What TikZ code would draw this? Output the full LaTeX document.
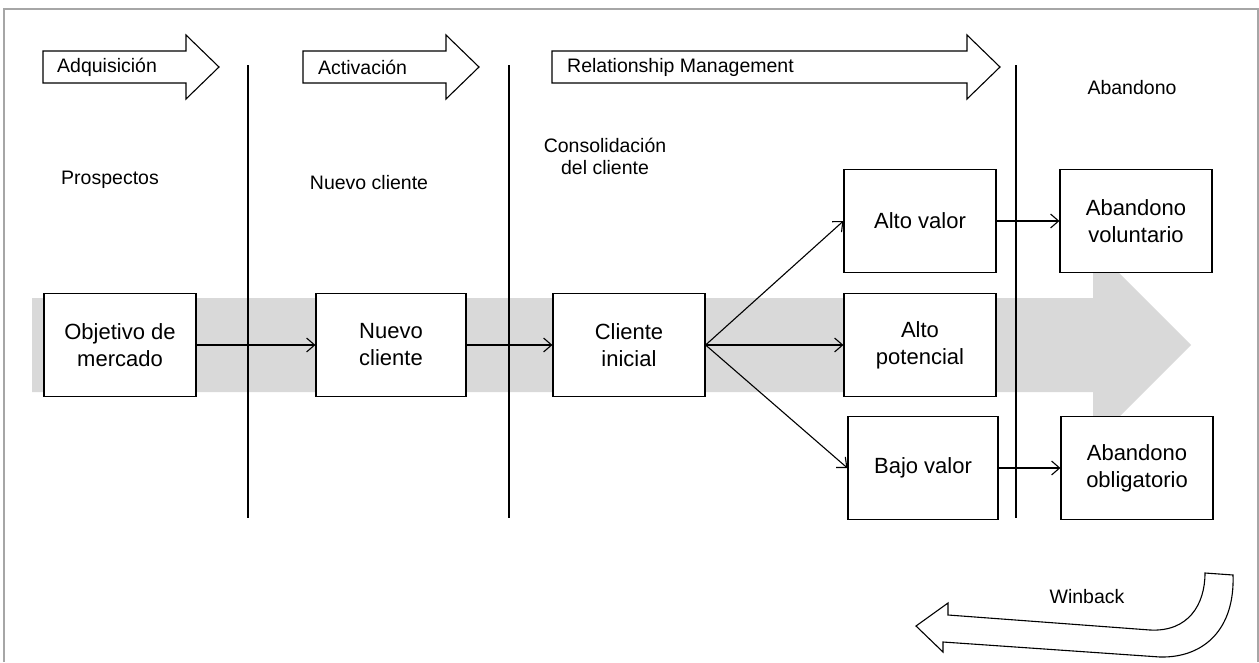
\documentclass[tikz,border=0pt]{standalone}
\usepackage{fontspec}
\setmainfont{Liberation Sans}
\usetikzlibrary{arrows.meta}
\definecolor{flowgray}{HTML}{D9D9D9}
\definecolor{framegray}{HTML}{A6A6A6}
\begin{document}
\begin{tikzpicture}[x=1pt,y=-1pt,
  stage/.style={draw, line width=1.2pt, fill=white, minimum width=152pt,
    minimum height=103pt, align=center, inner sep=2pt,
    font=\fontsize{22}{27}\selectfont},
  lbl/.style={font=\fontsize{19.5}{22}\selectfont, align=center, inner sep=0pt},
  divider/.style={line width=1.3pt},
  link/.style={line width=1.1pt,
    -{Straight Barb[length=8pt,width=14pt,line width=1.1pt]}},
  phase/.style={draw, line width=1.1pt, fill=white, line join=miter},
]
\useasboundingbox (0,0) rectangle (1259,662);

% outer frame, open at the bottom
\draw[framegray, line width=1.3pt] (4,662) -- (4,9) -- (1258,9) -- (1258,662);

% broad grey flow arrow behind the stages
\fill[flowgray] (32,298) -- (1093,298) -- (1093,247) -- (1191,345)
  -- (1093,443) -- (1093,392) -- (32,392) -- cycle;

% phase arrows along the top
\draw[phase] (43,51) -- (186,51) -- (186,35) -- (219,67) -- (186,99)
  -- (186,83) -- (43,83) -- cycle;
\node[lbl, anchor=west] (adq) at (57,67) {Adquisición};

\draw[phase] (303,51) -- (446,51) -- (446,35) -- (479,67) -- (446,99)
  -- (446,83) -- (303,83) -- cycle;
\node[lbl, anchor=west] (act) at (318,67) {Activación};

\draw[phase] (552,51) -- (967,51) -- (967,35) -- (1000,67) -- (967,99)
  -- (967,83) -- (552,83) -- cycle;
\node[lbl, anchor=west] (rm) at (567,67) {Relationship Management};

% phase dividers
\draw[divider] (248,65) -- (248,518);
\draw[divider] (509,65) -- (509,518);
\draw[divider] (1016,65) -- (1016,518);

% stage captions
\node[lbl] (prosp) at (110,180) {Prospectos};
\node[lbl] (nc) at (369,183) {Nuevo cliente};
\node[lbl] (cons) at (605,156) {Consolidación\\del cliente};
\node[lbl] (aband) at (1132,88) {Abandono};

% customer stages
\node[stage] (obj) at (120,345) {Objetivo de\\mercado};
\node[stage, minimum width=150pt] (nuevo) at (391,345) {Nuevo\\cliente};
\node[stage] (ini) at (629,345) {Cliente\\inicial};
\node[stage] (alto) at (920,221) {Alto valor};
\node[stage] (pot) at (920,345) {Alto\\potencial};
\node[stage, minimum width=150pt] (bajo) at (923,468) {Bajo valor};
\node[stage] (vol) at (1136,221) {Abandono\\voluntario};
\node[stage] (obl) at (1137,468) {Abandono\\obligatorio};

% transitions
\draw[link] (obj.east) -- (nuevo.west);
\draw[link] (nuevo.east) -- (ini.west);
\draw[link] (ini.east) -- (alto.west);
\draw[link] (ini.east) -- (pot.west);
\draw[link] (ini.east) -- (bajo.west);
\draw[link] (alto.east) -- (vol.west);
\draw[link] (bajo.east) -- (obl.west);

% winback return arrow
\draw[phase] (916,626) -- (948,603) -- (948,615) -- (1150,630)
  .. controls (1188,632) and (1205,605) .. (1205,573) -- (1233,575)
  .. controls (1235,628) and (1205,658) .. (1160,657) -- (943,642)
  -- (943,652) -- cycle;
\node[lbl] (winback) at (1087,597) {Winback};
\end{tikzpicture}
\end{document}
